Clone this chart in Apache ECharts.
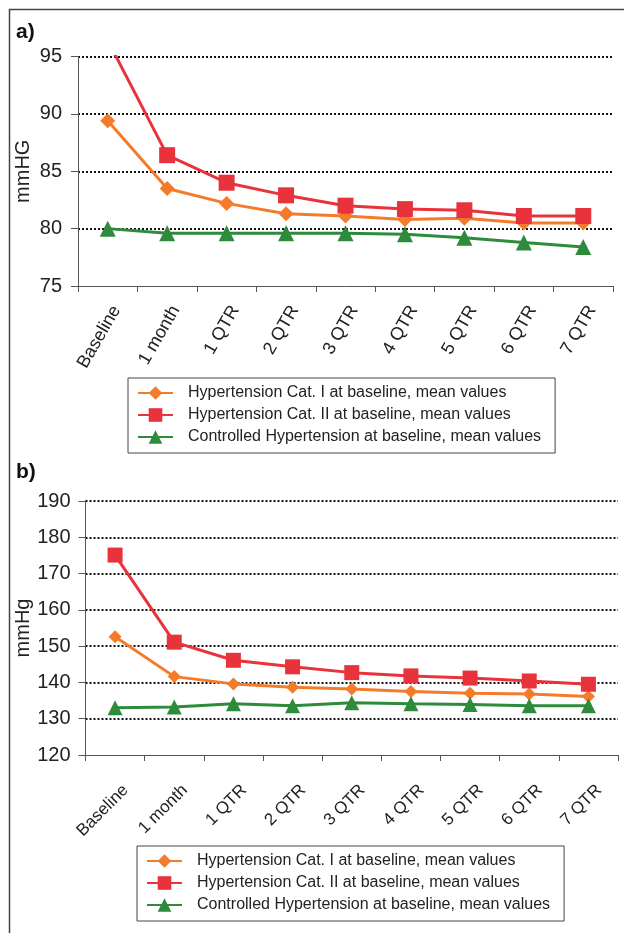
<!DOCTYPE html>
<html>
<head>
<meta charset="utf-8">
<script src="https://cdn.jsdelivr.net/npm/echarts@6/dist/echarts.min.js"></script>
<style>
html,body{margin:0;padding:0;background:#fff;}
#chart{width:624px;height:933px;}
</style>
</head>
<body>
<div id="chart"></div>
<script>
// Categories / tick labels
var categories = ['Baseline', '1 month', '1 QTR', '2 QTR', '3 QTR', '4 QTR', '5 QTR', '6 QTR', '7 QTR'];
var seriesNames = [
  'Hypertension Cat. I at baseline, mean values',
  'Hypertension Cat. II at baseline, mean values',
  'Controlled Hypertension at baseline, mean values'
];
// Panel a (diastolic, mmHG)
var aCatI  = [89.4, 83.5, 82.2, 81.3, 81.1, 80.8, 80.9, 80.5, 80.5];
var aCatII = [96.4, 86.4, 84.0, 82.9, 82.0, 81.7, 81.6, 81.1, 81.1];
var aCtrl  = [80.0, 79.6, 79.6, 79.6, 79.6, 79.5, 79.2, 78.8, 78.4];
// Panel b (systolic, mmHg)
var bCatI  = [152.6, 141.6, 139.6, 138.7, 138.2, 137.5, 137.0, 136.8, 136.1];
var bCatII = [175.1, 151.1, 146.1, 144.3, 142.7, 141.8, 141.2, 140.4, 139.5];
var bCtrl  = [133.0, 133.2, 134.1, 133.6, 134.4, 134.1, 133.9, 133.6, 133.6];

var FONT = '"Liberation Sans", Arial, Helvetica, sans-serif';
var colors = ['#F47B2A', '#E8323C', '#2E8B3C'];
var symbols = ['diamond', 'rect', 'triangle'];

var chart = echarts.init(document.getElementById('chart'), null, {renderer: 'canvas'});

function xAxis(gridIndex, rotate, fontSize, margin, lh) {
  return {
    type: 'category', gridIndex: gridIndex, data: categories, boundaryGap: true,
    axisLine: {show: true, lineStyle: {color: '#555', width: 1}},
    axisTick: {show: true, length: 6, lineStyle: {color: '#555', width: 1}},
    axisLabel: {
      interval: 0, rotate: rotate, fontSize: fontSize, fontFamily: FONT, color: '#222',
      margin: margin, verticalAlign: 'top', lineHeight: lh
    },
    splitLine: {show: false}
  };
}
function yAxis(gridIndex, min, max, interval, name, nameGap, margin) {
  return {
    type: 'value', gridIndex: gridIndex, min: min, max: max, interval: interval,
    name: name, nameLocation: 'middle', nameGap: nameGap, nameMoveOverlap: false,
    nameTextStyle: {fontSize: 20, fontFamily: FONT, color: '#222'},
    axisLine: {show: true, lineStyle: {color: '#555', width: 1}},
    axisTick: {show: true, length: 7, lineStyle: {color: '#555', width: 1}},
    axisLabel: {fontSize: 20, fontFamily: FONT, color: '#222', margin: margin},
    splitLine: {show: true, showMinLine: false, lineStyle: {color: '#111', width: 2, type: [2, 2]}}
  };
}
function lineSeries(i, data, axisIdx, sizes) {
  return {
    name: seriesNames[i], type: 'line', data: data,
    xAxisIndex: axisIdx, yAxisIndex: axisIdx,
    symbol: symbols[i], symbolSize: sizes[i], showAllSymbol: true,
    clip: true, animation: false,
    itemStyle: {color: colors[i]},
    lineStyle: {color: colors[i], width: 3},
    z: 2 + i
  };
}
function legend(left, top) {
  return {
    show: true, orient: 'vertical', left: left, top: top,
    data: seriesNames,
    itemWidth: 35, itemHeight: 17, itemGap: 6,
    padding: [7, 14, 8, 9],
    borderColor: '#444', borderWidth: 1, backgroundColor: '#fff',
    textStyle: {fontSize: 16, fontFamily: FONT, color: '#222', padding: [0, 0, 0, 10]},
    selectedMode: false
  };
}

var option = {
  animation: false,
  backgroundColor: '#ffffff',
  grid: [
    {left: 78, right: 11, top: 56.5, height: 229.5, outerBoundsMode: 'none', containLabel: false},
    {left: 85.5, right: 6, top: 501, height: 254, outerBoundsMode: 'none', containLabel: false}
  ],
  xAxis: [xAxis(0, 60, 18, 16, 20), xAxis(1, 45, 17, 22, 30)],
  yAxis: [yAxis(0, 75, 95, 5, 'mmHG', 45, 16), yAxis(1, 120, 190, 10, 'mmHg', 52, 15)],
  legend: [legend(128, 378), legend(137, 846)],
  series: [
    lineSeries(0, aCatI, 0, [15, 16, 16]),
    lineSeries(1, aCatII, 0, [15, 16, 16]),
    lineSeries(2, aCtrl, 0, [15, 16, 16]),
    lineSeries(0, bCatI, 1, [13, 15, 15]),
    lineSeries(1, bCatII, 1, [13, 15, 15]),
    lineSeries(2, bCtrl, 1, [13, 15, 15])
  ],
  graphic: [
    {type: 'rect', left: 7, top: 7, shape: {x: 0, y: 0, width: 700, height: 1000},
     style: {fill: 'none', stroke: '#444', lineWidth: 1.5}, silent: true, z: -1},
    {type: 'text', left: 16, top: 22, style: {text: 'a)', font: 'bold 21px ' + FONT, fill: '#111'}},
    {type: 'text', left: 16, top: 462, style: {text: 'b)', font: 'bold 21px ' + FONT, fill: '#111'}}
  ]
};
chart.setOption(option);
</script>
</body>
</html>
